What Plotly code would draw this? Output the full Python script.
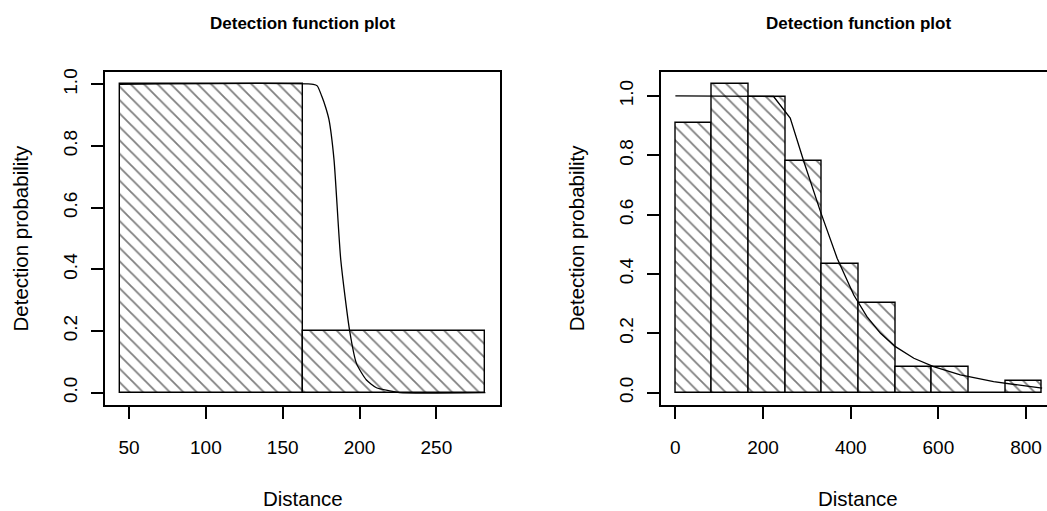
import plotly.graph_objects as go

# ---------------- data ----------------
# Left panel: histogram bins (edges) and scaled heights
left_edges = [43.9, 162.9, 281.9]
left_heights = [1.0, 0.2]
# Left panel: fitted detection function
left_curve_x = [43.9, 169.9, 172.5, 175.4, 178.0, 180.1, 183.4, 187.8, 193.6, 198.0, 204.5, 211.0, 219.6, 226.0, 281.9]
left_curve_y = [1.0, 1.0, 0.995, 0.962, 0.925, 0.886, 0.756, 0.431, 0.200, 0.095, 0.041, 0.016, 0.006, 0.0, 0.0]

# Right panel: histogram bins (edges) and scaled heights
right_edges = [0.0, 83.66, 167.32, 250.98, 334.64, 418.3, 501.96, 585.62, 669.28, 752.94, 836.6]
right_heights = [0.910, 1.039, 0.998, 0.781, 0.433, 0.302, 0.085, 0.085, 0.0, 0.040]
# Right panel: fitted detection function
right_curve_x = [0, 200, 224, 262, 293, 331, 369, 407, 437, 468, 502, 544, 589, 650, 726, 836.6]
right_curve_y = [1.0, 1.0, 0.998, 0.925, 0.779, 0.610, 0.453, 0.329, 0.256, 0.200, 0.155,
                 0.116, 0.088, 0.060, 0.037, 0.015]

left_xticks = [50, 100, 150, 200, 250]
right_xticks = [0, 200, 400, 600, 800]
y_ticks = [0.0, 0.2, 0.4, 0.6, 0.8, 1.0]

title_text = "Detection function plot"
x_title = "Distance"
y_title = "Detection probability"

# ---------------- layout geometry ----------------
W, H = 1047, 511
FONT = "Liberation Sans, Arial, sans-serif"
TICK_SIZE = 19
LAB_SIZE = 20.5
TITLE_SIZE = 17

box_top, box_bot = 72, 405
ydom = [1 - box_bot / H, 1 - box_top / H]
xdom1 = [105 / W, 500 / W]
xdom2 = [660.7 / W, 1.0]

pattern = dict(shape="\\", size=9.5, solidity=0.19, fgcolor="black", bgcolor="white")


def bars(edges, heights, xa, ya):
    lefts = edges[:-1]
    widths = [edges[i + 1] - edges[i] for i in range(len(heights))]
    return go.Bar(
        x=lefts, y=heights, width=widths, offset=0, base=0,
        marker=dict(color="white", line=dict(color="black", width=1.4), pattern=pattern),
        xaxis=xa, yaxis=ya, showlegend=False, hoverinfo="skip",
    )


fig = go.Figure()
fig.add_trace(bars(left_edges, left_heights, "x", "y"))
fig.add_trace(go.Scatter(x=left_curve_x, y=left_curve_y, mode="lines",
                         line=dict(color="black", width=1.3, shape="spline", smoothing=0.6),
                         xaxis="x", yaxis="y", showlegend=False))
fig.add_trace(bars(right_edges, right_heights, "x2", "y2"))
fig.add_trace(go.Scatter(x=right_curve_x, y=right_curve_y, mode="lines",
                         line=dict(color="black", width=1.3), xaxis="x2", yaxis="y2",
                         showlegend=False))

common_x = dict(showgrid=False, zeroline=False, showline=True, linecolor="black", linewidth=2,
                mirror=True, ticks="outside", ticklen=12, tickwidth=1.5, tickcolor="black",
                tickfont=dict(family=FONT, size=TICK_SIZE, color="black"),
                ticklabelstandoff=12, automargin=False, fixedrange=True)
common_y = dict(showgrid=False, zeroline=False, showline=True, linecolor="black", linewidth=2,
                ticks="outside", ticklen=12, tickwidth=1.5, tickcolor="black",
                tickvals=y_ticks, tickformat=".1f", tickangle=-90,
                tickfont=dict(family=FONT, size=TICK_SIZE, color="black"),
                ticklabelstandoff=6, automargin=False, fixedrange=True)

lx_min, lx_max = left_edges[0], left_edges[-1]
lpad = 0.04 * (lx_max - lx_min)
rx_min, rx_max = right_edges[0], right_edges[-1]
rpad = 0.04 * (rx_max - rx_min)
# right panel box extends past the window edge; clip the visible range at the edge
r_right = (rx_min - rpad) + (1047 - 660.7) / 0.43838

ymax2 = max(right_heights)

fig.update_layout(
    width=W, height=H,
    margin=dict(l=0, r=0, t=0, b=0),
    paper_bgcolor="white", plot_bgcolor="white",
    bargap=0, barmode="overlay",
    xaxis=dict(domain=xdom1, range=[lx_min - lpad, lx_max + lpad], tickvals=left_xticks,
               anchor="y", **common_x),
    yaxis=dict(domain=ydom, range=[-0.04, 1.04], anchor="x", mirror=True, **common_y),
    xaxis2=dict(domain=xdom2, range=[rx_min - rpad, r_right], tickvals=right_xticks,
                anchor="y2", **common_x),
    yaxis2=dict(domain=ydom, range=[-0.04 * ymax2, ymax2 * 1.04], anchor="x2", mirror=False,
                **common_y),
)

ann = []
for cx in [302.5, 858.0]:
    ann.append(dict(text="<b>" + title_text + "</b>", x=cx / W, y=1 - 23 / H, xref="paper",
                    yref="paper", xanchor="center", yanchor="middle", showarrow=False,
                    font=dict(family=FONT, size=TITLE_SIZE, color="black")))
    ann.append(dict(text=x_title, x=cx / W, y=1 - 498 / H, xref="paper", yref="paper",
                    xanchor="center", yanchor="middle", showarrow=False,
                    font=dict(family=FONT, size=LAB_SIZE, color="black")))
for cx in [20.0, 576.7]:
    ann.append(dict(text=y_title, x=cx / W, y=1 - 238.5 / H, xref="paper", yref="paper",
                    xanchor="center", yanchor="middle", textangle=-90, showarrow=False,
                    font=dict(family=FONT, size=LAB_SIZE, color="black")))
fig.update_layout(annotations=ann)

fig.write_html("out.html", config={"displayModeBar": False})

# remove the default page margin so the figure sits at the window's top-left corner
with open("out.html", encoding="utf-8") as f:
    page = f.read()
page = page.replace("<body>", '<body style="margin:0;padding:0;overflow:hidden">', 1)
with open("out.html", "w", encoding="utf-8") as f:
    f.write(page)
